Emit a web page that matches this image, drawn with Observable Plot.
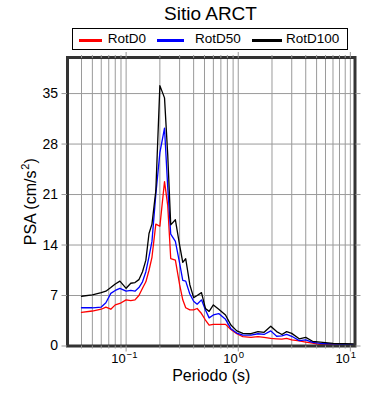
<!DOCTYPE html>
<html>
<head>
<meta charset="utf-8">
<script src="https://cdn.jsdelivr.net/npm/d3@7"></script>
<script src="https://cdn.jsdelivr.net/npm/@observablehq/plot@0.6"></script>
<style>
  html, body { margin: 0; padding: 0; background: white; }
  #wrap { position: relative; width: 390px; height: 400px; font-family: "Liberation Sans", Arial, sans-serif; color: black; }
  #wrap svg { position: absolute; left: 0; top: 0; }
  .title { position: absolute; left: 0; width: 421px; top: 4px; text-align: center; font-size: 19px; line-height: 19px; }
  .legbox { position: absolute; left: 72px; top: 28px; width: 276px; height: 22px; border: 1.5px solid black; box-sizing: border-box; background: white; }
  .legline { position: absolute; height: 3px; top: 38.5px; }
  .legtext { position: absolute; top: 32.3px; font-size: 13.5px; line-height: 14px; white-space: nowrap; }
</style>
</head>
<body>
<div id="wrap"></div>
<script>
// ---- data ----
const titleText = "Sitio ARCT";
const seriesNames = ["RotD0", "RotD50", "RotD100"];
const periods = [0.04, 0.05, 0.06, 0.066, 0.073, 0.08, 0.088, 0.1, 0.11, 0.12, 0.13, 0.14, 0.15, 0.16, 0.17, 0.184, 0.2, 0.22, 0.235, 0.25, 0.275, 0.3, 0.32, 0.34, 0.37, 0.4, 0.43, 0.47, 0.51, 0.55, 0.6, 0.67, 0.77, 0.86, 0.97, 1.1, 1.3, 1.5, 1.7, 1.95, 2.2, 2.45, 2.7, 3.0, 3.5, 4.0, 4.6, 5.4, 7.0, 11];
const rotD0 = [4.65, 4.85, 5.1, 5.4, 5.1, 5.7, 5.9, 6.4, 6.3, 6.4, 7.0, 8.0, 8.9, 10.5, 12.3, 16.9, 16.6, 22.8, 19.5, 12.1, 11.9, 8.5, 6.4, 5.3, 5.0, 5.0, 5.2, 4.5, 3.6, 2.9, 3.0, 3.0, 3.0, 2.3, 1.7, 1.3, 1.2, 1.3, 1.2, 1.06, 1.0, 0.95, 1.06, 0.85, 0.7, 0.55, 0.4, 0.2, 0.18, 0.14];
const rotD50 = [5.3, 5.3, 5.4, 6.0, 7.3, 7.7, 8.0, 7.6, 7.7, 7.6, 8.1, 8.9, 10.3, 12.4, 14.5, 21.0, 26.8, 30.2, 22.0, 15.5, 14.5, 11.5, 9.1, 9.0, 7.2, 6.2, 5.8, 6.4, 5.0, 3.9, 4.3, 4.5, 3.7, 2.4, 1.8, 1.5, 1.5, 1.7, 1.6, 2.1, 1.35, 1.4, 1.6, 1.35, 0.75, 0.85, 0.5, 0.35, 0.28, 0.18];
const rotD100 = [6.9, 7.1, 7.4, 7.6, 8.1, 8.6, 9.0, 8.0, 8.7, 8.8, 9.2, 10.3, 11.9, 15.6, 16.9, 21.5, 36.1, 34.4, 26.5, 16.8, 17.5, 14.0, 11.6, 12.1, 8.5, 6.7, 7.0, 7.4, 5.2, 4.8, 5.7, 5.1, 4.3, 2.9, 2.1, 1.75, 1.7, 2.0, 1.9, 2.75, 2.0, 1.6, 2.0, 1.75, 1.0, 1.2, 0.65, 0.55, 0.37, 0.28];
const yTicks = [0, 7, 14, 21, 28, 35];
const xMajor = [0.1, 1, 10];
const xMajorBase = "10";
const xMajorExp = ["−1", "0", "1"];
const xMinor = [0.04, 0.05, 0.06, 0.07, 0.08, 0.09, 0.2, 0.3, 0.4, 0.5, 0.6, 0.7, 0.8, 0.9, 2, 3, 4, 5, 6, 7, 8, 9];
const xLabel = "Periodo (s)";
const yLabelMain = "PSA (cm/s";
const yLabelSup = "2";
const yLabelEnd = ")";

// ---- build ----
const seriesValues = [rotD0, rotD50, rotD100];
const table = seriesNames.flatMap((s, k) => periods.map((p, i) => ({T: p, v: seriesValues[k][i], s})));
const colors = ["#ff0000", "#0000ff", "#000000"];
const majorExp = new Map(xMajor.map((d, i) => [d, xMajorExp[i]]));
const gridX = xMinor.concat(xMajor);

// y label pieces (rotated, reading upward); widths from Arial-compatible metrics
const yl = {size: 16, supSize: 11, mainEm: 4.723, supEm: 0.556, closeEm: 0.333};
const mainW = yl.mainEm * yl.size, supW = yl.supEm * yl.supSize, closeW = yl.closeEm * yl.size;
const totalW = mainW + supW + closeW;
const yStart = totalW / 2; // offset below the frame's middle

const chart = Plot.plot({
  width: 390, height: 400,
  marginLeft: 67, marginRight: 35.5, marginTop: 57, marginBottom: 54.5,
  style: {fontFamily: "Liberation Sans, Arial, sans-serif", background: "transparent", color: "black"},
  x: {type: "log", domain: [0.03, 11]},
  y: {domain: [0, 40]},
  color: {domain: seriesNames, range: colors},
  marks: [
    Plot.ruleX(gridX, {stroke: "#9a9a9a", strokeWidth: 1}),
    Plot.ruleY(yTicks.filter(d => d > 0), {stroke: "#9a9a9a", strokeWidth: 1}),
    Plot.line(table, {x: "T", y: "v", z: "s", stroke: "s", strokeWidth: 1.3}),
    Plot.frame({stroke: "#333", strokeWidth: 3}),
    Plot.axisY(yTicks, {anchor: "left", tickSize: 5.5, tickPadding: 4, fontSize: 14, stroke: "#999", fill: "black", label: null}),
    Plot.axisY(yTicks, {anchor: "right", tickSize: 5, tickFormat: () => "", stroke: "#999", label: null}),
    Plot.axisX(xMinor, {anchor: "bottom", tickSize: 3, tickFormat: () => "", stroke: "#999", label: null}),
    Plot.axisX(xMajor, {anchor: "bottom", tickSize: 6, tickFormat: () => "", stroke: "#999", label: null}),
    Plot.axisX(xMinor, {anchor: "top", tickSize: 3, tickFormat: () => "", stroke: "#999", label: null}),
    Plot.axisX(xMajor, {anchor: "top", tickSize: 6, tickFormat: () => "", stroke: "#999", label: null}),
    Plot.text(xMajor, {x: d => d, frameAnchor: "bottom", dy: 16.8, dx: -0.5, text: () => xMajorBase, textAnchor: "end", fontSize: 13, fill: "black"}),
    Plot.text(xMajor, {x: d => d, frameAnchor: "bottom", dy: 12.3, dx: 0.5, text: d => majorExp.get(d), textAnchor: "start", fontSize: 9.5, fill: "black"}),
    Plot.text([yLabelMain], {frameAnchor: "left", dx: -37, dy: yStart, rotate: -90, textAnchor: "start", fontSize: yl.size, fill: "black"}),
    Plot.text([yLabelSup], {frameAnchor: "left", dx: -42, dy: yStart - mainW, rotate: -90, textAnchor: "start", fontSize: yl.supSize, fill: "black"}),
    Plot.text([yLabelEnd], {frameAnchor: "left", dx: -37, dy: yStart - mainW - supW, rotate: -90, textAnchor: "start", fontSize: yl.size, fill: "black"}),
    Plot.text([xLabel], {frameAnchor: "bottom", dy: 34.8, fontSize: 16, fill: "black"})
  ]
});

const wrap = document.getElementById("wrap");
wrap.appendChild(chart);

const title = document.createElement("div");
title.className = "title";
title.textContent = titleText;
wrap.appendChild(title);

const box = document.createElement("div");
box.className = "legbox";
wrap.appendChild(box);

const lineX = [79, 156.7, 252];
const lineW = [23, 27.3, 29.7];
const textX = [107.7, 195, 286];
seriesNames.forEach((name, k) => {
  const ln = document.createElement("div");
  ln.className = "legline";
  ln.style.left = lineX[k] + "px";
  ln.style.width = lineW[k] + "px";
  ln.style.background = colors[k];
  wrap.appendChild(ln);
  const tx = document.createElement("div");
  tx.className = "legtext";
  tx.style.left = textX[k] + "px";
  tx.textContent = name;
  wrap.appendChild(tx);
});
</script>
</body>
</html>
